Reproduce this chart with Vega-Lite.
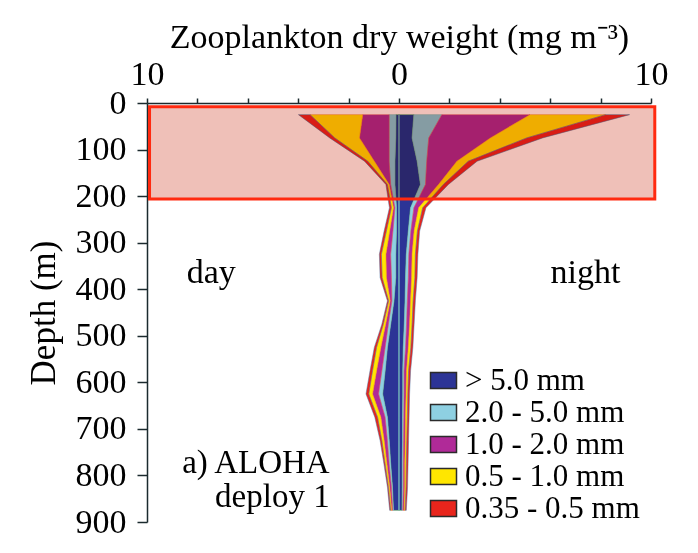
{
  "$schema": "https://vega.github.io/schema/vega-lite/v6.json",
  "width": 504,
  "height": 419,
  "autosize": "none",
  "padding": {"left": 147, "top": 103, "right": 47, "bottom": 31},
  "background": "white",
  "config": {
    "view": {"stroke": null},
    "font": "Liberation Serif",
    "axis": {"labelFont": "Liberation Serif", "titleFont": "Liberation Serif", "labelColor": "black", "titleColor": "black", "titleFontWeight": "normal", "domainColor": "#1b2a2e", "tickColor": "#1b2a2e", "domainWidth": 1.5, "tickWidth": 1.5, "grid": false},
    "legend": {"labelFont": "Liberation Serif"}
  },
  "datasets": {
    "profile": [
      {"d":25,"s":"> 5.0 mm","t":"day","x":-0.12},{"d":25,"s":"2.0 - 5.0 mm","t":"day","x":-0.27},{"d":25,"s":"1.0 - 2.0 mm","t":"day","x":-1.05},{"d":25,"s":"0.5 - 1.0 mm","t":"day","x":-2.09},{"d":25,"s":"0.35 - 0.5 mm","t":"day","x":-0.46},
      {"d":75,"s":"> 5.0 mm","t":"day","x":-0.13},{"d":75,"s":"2.0 - 5.0 mm","t":"day","x":-0.26},{"d":75,"s":"1.0 - 2.0 mm","t":"day","x":-1.18},{"d":75,"s":"0.5 - 1.0 mm","t":"day","x":-0.98},{"d":75,"s":"0.35 - 0.5 mm","t":"day","x":-0.2},
      {"d":125,"s":"> 5.0 mm","t":"day","x":-0.16},{"d":125,"s":"2.0 - 5.0 mm","t":"day","x":-0.23},{"d":125,"s":"1.0 - 2.0 mm","t":"day","x":-0.59},{"d":125,"s":"0.5 - 1.0 mm","t":"day","x":-0.26},{"d":125,"s":"0.35 - 0.5 mm","t":"day","x":-0.13},
      {"d":175,"s":"> 5.0 mm","t":"day","x":-0.16},{"d":175,"s":"2.0 - 5.0 mm","t":"day","x":-0.17},{"d":175,"s":"1.0 - 2.0 mm","t":"day","x":-0.06},{"d":175,"s":"0.5 - 1.0 mm","t":"day","x":-0.07},{"d":175,"s":"0.35 - 0.5 mm","t":"day","x":-0.06},
      {"d":225,"s":"> 5.0 mm","t":"day","x":-0.1},{"d":225,"s":"2.0 - 5.0 mm","t":"day","x":-0.06},{"d":225,"s":"1.0 - 2.0 mm","t":"day","x":-0.06},{"d":225,"s":"0.5 - 1.0 mm","t":"day","x":-0.08},{"d":225,"s":"0.35 - 0.5 mm","t":"day","x":-0.08},
      {"d":275,"s":"> 5.0 mm","t":"day","x":-0.1},{"d":275,"s":"2.0 - 5.0 mm","t":"day","x":-0.14},{"d":275,"s":"1.0 - 2.0 mm","t":"day","x":-0.13},{"d":275,"s":"0.5 - 1.0 mm","t":"day","x":-0.13},{"d":275,"s":"0.35 - 0.5 mm","t":"day","x":-0.09},
      {"d":325,"s":"> 5.0 mm","t":"day","x":-0.13},{"d":325,"s":"2.0 - 5.0 mm","t":"day","x":-0.2},{"d":325,"s":"1.0 - 2.0 mm","t":"day","x":-0.19},{"d":325,"s":"0.5 - 1.0 mm","t":"day","x":-0.18},{"d":325,"s":"0.35 - 0.5 mm","t":"day","x":-0.08},
      {"d":375,"s":"> 5.0 mm","t":"day","x":-0.13},{"d":375,"s":"2.0 - 5.0 mm","t":"day","x":-0.17},{"d":375,"s":"1.0 - 2.0 mm","t":"day","x":-0.2},{"d":375,"s":"0.5 - 1.0 mm","t":"day","x":-0.17},{"d":375,"s":"0.35 - 0.5 mm","t":"day","x":-0.08},
      {"d":425,"s":"> 5.0 mm","t":"day","x":-0.2},{"d":425,"s":"2.0 - 5.0 mm","t":"day","x":-0.08},{"d":425,"s":"1.0 - 2.0 mm","t":"day","x":-0.07},{"d":425,"s":"0.5 - 1.0 mm","t":"day","x":-0.06},{"d":425,"s":"0.35 - 0.5 mm","t":"day","x":-0.05},
      {"d":475,"s":"> 5.0 mm","t":"day","x":-0.33},{"d":475,"s":"2.0 - 5.0 mm","t":"day","x":-0.09},{"d":475,"s":"1.0 - 2.0 mm","t":"day","x":-0.11},{"d":475,"s":"0.5 - 1.0 mm","t":"day","x":-0.09},{"d":475,"s":"0.35 - 0.5 mm","t":"day","x":-0.06},
      {"d":525,"s":"> 5.0 mm","t":"day","x":-0.46},{"d":525,"s":"2.0 - 5.0 mm","t":"day","x":-0.09},{"d":525,"s":"1.0 - 2.0 mm","t":"day","x":-0.17},{"d":525,"s":"0.5 - 1.0 mm","t":"day","x":-0.17},{"d":525,"s":"0.35 - 0.5 mm","t":"day","x":-0.09},
      {"d":575,"s":"> 5.0 mm","t":"day","x":-0.55},{"d":575,"s":"2.0 - 5.0 mm","t":"day","x":-0.13},{"d":575,"s":"1.0 - 2.0 mm","t":"day","x":-0.21},{"d":575,"s":"0.5 - 1.0 mm","t":"day","x":-0.16},{"d":575,"s":"0.35 - 0.5 mm","t":"day","x":-0.1},
      {"d":625,"s":"> 5.0 mm","t":"day","x":-0.65},{"d":625,"s":"2.0 - 5.0 mm","t":"day","x":-0.16},{"d":625,"s":"1.0 - 2.0 mm","t":"day","x":-0.24},{"d":625,"s":"0.5 - 1.0 mm","t":"day","x":-0.15},{"d":625,"s":"0.35 - 0.5 mm","t":"day","x":-0.11},
      {"d":675,"s":"> 5.0 mm","t":"day","x":-0.46},{"d":675,"s":"2.0 - 5.0 mm","t":"day","x":-0.09},{"d":675,"s":"1.0 - 2.0 mm","t":"day","x":-0.17},{"d":675,"s":"0.5 - 1.0 mm","t":"day","x":-0.13},{"d":675,"s":"0.35 - 0.5 mm","t":"day","x":-0.11},
      {"d":725,"s":"> 5.0 mm","t":"day","x":-0.39},{"d":725,"s":"2.0 - 5.0 mm","t":"day","x":-0.07},{"d":725,"s":"1.0 - 2.0 mm","t":"day","x":-0.13},{"d":725,"s":"0.5 - 1.0 mm","t":"day","x":-0.09},{"d":725,"s":"0.35 - 0.5 mm","t":"day","x":-0.07},
      {"d":775,"s":"> 5.0 mm","t":"day","x":-0.33},{"d":775,"s":"2.0 - 5.0 mm","t":"day","x":-0.06},{"d":775,"s":"1.0 - 2.0 mm","t":"day","x":-0.09},{"d":775,"s":"0.5 - 1.0 mm","t":"day","x":-0.07},{"d":775,"s":"0.35 - 0.5 mm","t":"day","x":-0.05},
      {"d":825,"s":"> 5.0 mm","t":"day","x":-0.26},{"d":825,"s":"2.0 - 5.0 mm","t":"day","x":-0.04},{"d":825,"s":"1.0 - 2.0 mm","t":"day","x":-0.07},{"d":825,"s":"0.5 - 1.0 mm","t":"day","x":-0.05},{"d":825,"s":"0.35 - 0.5 mm","t":"day","x":-0.04},
      {"d":875,"s":"> 5.0 mm","t":"day","x":-0.22},{"d":875,"s":"2.0 - 5.0 mm","t":"day","x":-0.03},{"d":875,"s":"1.0 - 2.0 mm","t":"day","x":-0.04},{"d":875,"s":"0.5 - 1.0 mm","t":"day","x":-0.04},{"d":875,"s":"0.35 - 0.5 mm","t":"day","x":-0.04},
      {"d":25,"s":"> 5.0 mm","t":"night","x":0.59},{"d":25,"s":"2.0 - 5.0 mm","t":"night","x":1.11},{"d":25,"s":"1.0 - 2.0 mm","t":"night","x":3.5},{"d":25,"s":"0.5 - 1.0 mm","t":"night","x":3.0},{"d":25,"s":"0.35 - 0.5 mm","t":"night","x":0.95},
      {"d":75,"s":"> 5.0 mm","t":"night","x":0.52},{"d":75,"s":"2.0 - 5.0 mm","t":"night","x":0.66},{"d":75,"s":"1.0 - 2.0 mm","t":"night","x":2.45},{"d":75,"s":"0.5 - 1.0 mm","t":"night","x":1.44},{"d":75,"s":"0.35 - 0.5 mm","t":"night","x":0.63},
      {"d":125,"s":"> 5.0 mm","t":"night","x":0.72},{"d":125,"s":"2.0 - 5.0 mm","t":"night","x":0.38},{"d":125,"s":"1.0 - 2.0 mm","t":"night","x":1.2},{"d":125,"s":"0.5 - 1.0 mm","t":"night","x":0.45},{"d":125,"s":"0.35 - 0.5 mm","t":"night","x":0.35},
      {"d":175,"s":"> 5.0 mm","t":"night","x":0.85},{"d":175,"s":"2.0 - 5.0 mm","t":"night","x":0.2},{"d":175,"s":"1.0 - 2.0 mm","t":"night","x":0.52},{"d":175,"s":"0.5 - 1.0 mm","t":"night","x":0.19},{"d":175,"s":"0.35 - 0.5 mm","t":"night","x":0.2},
      {"d":225,"s":"> 5.0 mm","t":"night","x":0.46},{"d":225,"s":"2.0 - 5.0 mm","t":"night","x":0.13},{"d":225,"s":"1.0 - 2.0 mm","t":"night","x":0.19},{"d":225,"s":"0.5 - 1.0 mm","t":"night","x":0.16},{"d":225,"s":"0.35 - 0.5 mm","t":"night","x":0.13},
      {"d":275,"s":"> 5.0 mm","t":"night","x":0.37},{"d":275,"s":"2.0 - 5.0 mm","t":"night","x":0.1},{"d":275,"s":"1.0 - 2.0 mm","t":"night","x":0.13},{"d":275,"s":"0.5 - 1.0 mm","t":"night","x":0.13},{"d":275,"s":"0.35 - 0.5 mm","t":"night","x":0.09},
      {"d":325,"s":"> 5.0 mm","t":"night","x":0.29},{"d":325,"s":"2.0 - 5.0 mm","t":"night","x":0.1},{"d":325,"s":"1.0 - 2.0 mm","t":"night","x":0.13},{"d":325,"s":"0.5 - 1.0 mm","t":"night","x":0.13},{"d":325,"s":"0.35 - 0.5 mm","t":"night","x":0.1},
      {"d":375,"s":"> 5.0 mm","t":"night","x":0.26},{"d":375,"s":"2.0 - 5.0 mm","t":"night","x":0.11},{"d":375,"s":"1.0 - 2.0 mm","t":"night","x":0.13},{"d":375,"s":"0.5 - 1.0 mm","t":"night","x":0.13},{"d":375,"s":"0.35 - 0.5 mm","t":"night","x":0.09},
      {"d":425,"s":"> 5.0 mm","t":"night","x":0.24},{"d":425,"s":"2.0 - 5.0 mm","t":"night","x":0.09},{"d":425,"s":"1.0 - 2.0 mm","t":"night","x":0.13},{"d":425,"s":"0.5 - 1.0 mm","t":"night","x":0.1},{"d":425,"s":"0.35 - 0.5 mm","t":"night","x":0.09},
      {"d":475,"s":"> 5.0 mm","t":"night","x":0.21},{"d":475,"s":"2.0 - 5.0 mm","t":"night","x":0.09},{"d":475,"s":"1.0 - 2.0 mm","t":"night","x":0.12},{"d":475,"s":"0.5 - 1.0 mm","t":"night","x":0.1},{"d":475,"s":"0.35 - 0.5 mm","t":"night","x":0.08},
      {"d":525,"s":"> 5.0 mm","t":"night","x":0.17},{"d":525,"s":"2.0 - 5.0 mm","t":"night","x":0.09},{"d":525,"s":"1.0 - 2.0 mm","t":"night","x":0.11},{"d":525,"s":"0.5 - 1.0 mm","t":"night","x":0.1},{"d":525,"s":"0.35 - 0.5 mm","t":"night","x":0.08},
      {"d":575,"s":"> 5.0 mm","t":"night","x":0.15},{"d":575,"s":"2.0 - 5.0 mm","t":"night","x":0.05},{"d":575,"s":"1.0 - 2.0 mm","t":"night","x":0.1},{"d":575,"s":"0.5 - 1.0 mm","t":"night","x":0.08},{"d":575,"s":"0.35 - 0.5 mm","t":"night","x":0.08},
      {"d":625,"s":"> 5.0 mm","t":"night","x":0.15},{"d":625,"s":"2.0 - 5.0 mm","t":"night","x":0.05},{"d":625,"s":"1.0 - 2.0 mm","t":"night","x":0.08},{"d":625,"s":"0.5 - 1.0 mm","t":"night","x":0.07},{"d":625,"s":"0.35 - 0.5 mm","t":"night","x":0.07},
      {"d":675,"s":"> 5.0 mm","t":"night","x":0.14},{"d":675,"s":"2.0 - 5.0 mm","t":"night","x":0.05},{"d":675,"s":"1.0 - 2.0 mm","t":"night","x":0.07},{"d":675,"s":"0.5 - 1.0 mm","t":"night","x":0.07},{"d":675,"s":"0.35 - 0.5 mm","t":"night","x":0.07},
      {"d":725,"s":"> 5.0 mm","t":"night","x":0.14},{"d":725,"s":"2.0 - 5.0 mm","t":"night","x":0.04},{"d":725,"s":"1.0 - 2.0 mm","t":"night","x":0.07},{"d":725,"s":"0.5 - 1.0 mm","t":"night","x":0.06},{"d":725,"s":"0.35 - 0.5 mm","t":"night","x":0.07},
      {"d":775,"s":"> 5.0 mm","t":"night","x":0.13},{"d":775,"s":"2.0 - 5.0 mm","t":"night","x":0.04},{"d":775,"s":"1.0 - 2.0 mm","t":"night","x":0.06},{"d":775,"s":"0.5 - 1.0 mm","t":"night","x":0.06},{"d":775,"s":"0.35 - 0.5 mm","t":"night","x":0.07},
      {"d":825,"s":"> 5.0 mm","t":"night","x":0.13},{"d":825,"s":"2.0 - 5.0 mm","t":"night","x":0.04},{"d":825,"s":"1.0 - 2.0 mm","t":"night","x":0.06},{"d":825,"s":"0.5 - 1.0 mm","t":"night","x":0.05},{"d":825,"s":"0.35 - 0.5 mm","t":"night","x":0.06},
      {"d":875,"s":"> 5.0 mm","t":"night","x":0.12},{"d":875,"s":"2.0 - 5.0 mm","t":"night","x":0.03},{"d":875,"s":"1.0 - 2.0 mm","t":"night","x":0.05},{"d":875,"s":"0.5 - 1.0 mm","t":"night","x":0.04},{"d":875,"s":"0.35 - 0.5 mm","t":"night","x":0.05}
    ],
    "zeroline": [{"x": 0, "d": 25, "d2": 875}],
    "box": [{"x": -9.9, "x2": 10.15, "d": 8, "d2": 206}],
    "centerLabels": [
      {"x": -7.45, "d": 365, "label": "day"},
      {"x": 7.4, "d": 365, "label": "night"}
    ],
    "rightLabels": [
      {"x": -2.75, "d": 774, "label": "a) ALOHA"},
      {"x": -2.75, "d": 847, "label": "deploy 1"}
    ]
  },
  "layer": [
    {
      "data": {"name": "profile"},
      "mark": {"type": "area", "orient": "horizontal", "strokeWidth": 0.5},
      "encoding": {
        "x": {"field": "x", "type": "quantitative", "stack": "zero",
              "scale": {"domain": [-10, 10], "nice": false, "zero": false},
              "axis": {"orient": "top", "title": "Zooplankton dry weight (mg m⁻³)", "titleFontSize": 34, "titlePadding": 3,
                       "values": [-10,-9,-8,-7,-6,-5,-4,-3,-2,-1,0,1,2,3,4,5,6,7,8,9,10],
                       "labelExpr": "datum.value % 5 === 0 ? format(abs(datum.value), 'd') : ''",
                       "labelFontSize": 34, "tickSize": 5, "labelPadding": 7, "labelFlush": false, "labelOverlap": false}},
        "y": {"field": "d", "type": "quantitative",
              "scale": {"domain": [0, 900], "reverse": true, "nice": false, "zero": false},
              "axis": {"title": "Depth (m)", "titleFontSize": 35, "titlePadding": 14,
                       "values": [0,100,200,300,400,500,600,700,800,900],
                       "labelFontSize": 34, "tickSize": 10, "labelPadding": 11}},
        "color": {"field": "s", "type": "nominal",
                  "scale": {"domain": ["> 5.0 mm", "2.0 - 5.0 mm", "1.0 - 2.0 mm", "0.5 - 1.0 mm", "0.35 - 0.5 mm"],
                            "range": ["#2c3496", "#8ed0e2", "#b02a98", "#ffe600", "#e8251c"]},
                  "legend": {"title": null, "orient": "none", "legendX": 281, "legendY": 262,
                             "labelFontSize": 31, "labelFont": "Liberation Serif", "labelColor": "black", "labelLimit": 400,
                             "symbolType": "M-1,-0.62H1V0.62H-1Z", "symbolSize": 676, "symbolStrokeColor": "#2b2b2b", "symbolStrokeWidth": 1.5, "symbolOpacity": 1,
                             "rowPadding": 0, "labelOffset": 6, "padding": 0}},
        "stroke": {"field": "s", "type": "nominal", "legend": null},
        "detail": {"field": "t", "type": "nominal"},
        "order": {"field": "s", "sort": "descending"}
      }
    },
    {
      "data": {"name": "zeroline"},
      "mark": {"type": "rule", "color": "#86cbe8", "strokeWidth": 1},
      "encoding": {
        "x": {"field": "x", "type": "quantitative"},
        "y": {"field": "d", "type": "quantitative"},
        "y2": {"field": "d2"}
      }
    },
    {
      "data": {"name": "box"},
      "mark": {"type": "rect", "fill": "#efc0b8", "blend": "multiply"},
      "encoding": {
        "x": {"field": "x", "type": "quantitative"},
        "x2": {"field": "x2"},
        "y": {"field": "d", "type": "quantitative"},
        "y2": {"field": "d2"}
      }
    },
    {
      "data": {"name": "box"},
      "mark": {"type": "rect", "fillOpacity": 0, "stroke": "#ff2a10", "strokeWidth": 3},
      "encoding": {
        "x": {"field": "x", "type": "quantitative"},
        "x2": {"field": "x2"},
        "y": {"field": "d", "type": "quantitative"},
        "y2": {"field": "d2"}
      }
    },
    {
      "data": {"name": "centerLabels"},
      "mark": {"type": "text", "font": "Liberation Serif", "fontSize": 34, "color": "black", "baseline": "middle", "align": "center"},
      "encoding": {
        "x": {"field": "x", "type": "quantitative"},
        "y": {"field": "d", "type": "quantitative"},
        "text": {"field": "label"}
      }
    },
    {
      "data": {"name": "rightLabels"},
      "mark": {"type": "text", "font": "Liberation Serif", "fontSize": 33, "color": "black", "baseline": "middle", "align": "right"},
      "encoding": {
        "x": {"field": "x", "type": "quantitative"},
        "y": {"field": "d", "type": "quantitative"},
        "text": {"field": "label"}
      }
    }
  ]
}
